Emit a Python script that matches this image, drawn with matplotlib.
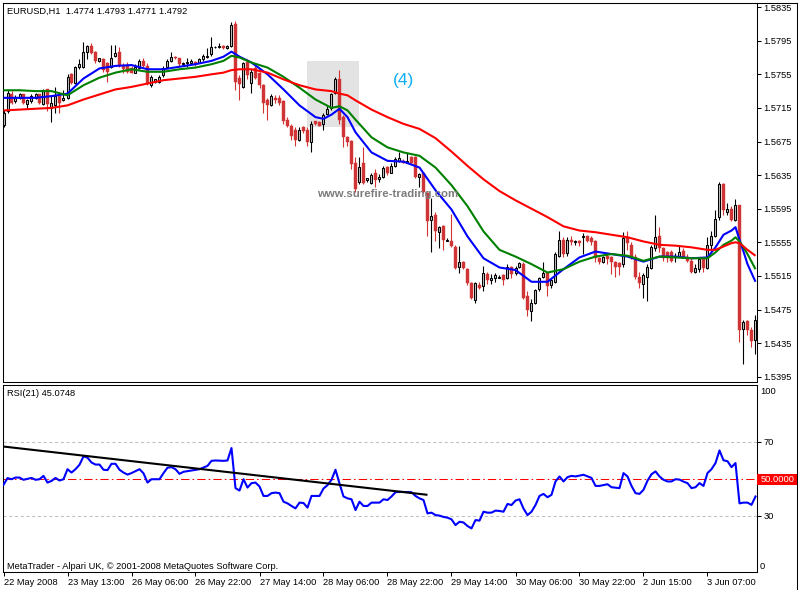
import matplotlib
matplotlib.use("Agg")
import matplotlib.pyplot as plt
from matplotlib.patches import Rectangle
import numpy as np

plt.rcParams['font.family'] = ['Liberation Sans', 'DejaVu Sans']

# ---------------- data ----------------
symbol_text = "EURUSD,H1  1.4774 1.4793 1.4771 1.4792"
rsi_text = "RSI(21) 45.0748"
copyright_text = "MetaTrader - Alpari UK, \u00a9 2001-2008 MetaQuotes Software Corp."
watermark = "www.surefire-trading.com"
wave_label = "(4)"

opens = [
1.5695, 1.5711, 1.5732, 1.5723, 1.5727, 1.5731, 1.5720, 1.5723, 1.5727, 1.5731,
1.5720, 1.5737, 1.5715, 1.5719, 1.5729, 1.5724, 1.5727, 1.5755, 1.5745, 1.5764,
1.5764, 1.5781, 1.5789, 1.5781, 1.5771, 1.5773, 1.5769, 1.5764, 1.5777, 1.5781,
1.5765, 1.5765, 1.5763, 1.5757, 1.5762, 1.5771, 1.5765, 1.5742, 1.5746, 1.5746,
1.5754, 1.5764, 1.5771, 1.5776, 1.5774, 1.5767, 1.5769, 1.5769, 1.5770, 1.5769,
1.5773, 1.5776, 1.5779, 1.5787, 1.5787, 1.5789, 1.5786, 1.5789, 1.5815, 1.5751,
1.5740, 1.5770, 1.5745, 1.5763, 1.5756, 1.5742, 1.5725, 1.5718, 1.5727, 1.5727,
1.5723, 1.5701, 1.5694, 1.5689, 1.5677, 1.5692, 1.5689, 1.5675, 1.5699, 1.5698,
1.5696, 1.5708, 1.5715, 1.5733, 1.5749, 1.5704, 1.5680, 1.5676, 1.5650, 1.5627,
1.5649, 1.5629, 1.5626, 1.5638, 1.5630, 1.5633, 1.5645, 1.5638, 1.5646, 1.5652,
1.5652, 1.5650, 1.5656, 1.5656, 1.5633, 1.5638, 1.5614, 1.5581, 1.5588, 1.5567,
1.5574, 1.5557, 1.5556, 1.5550, 1.5526, 1.5531, 1.5523, 1.5506, 1.5486, 1.5504,
1.5503, 1.5517, 1.5510, 1.5512, 1.5513, 1.5516, 1.5512, 1.5526, 1.5518, 1.5526,
1.5529, 1.5491, 1.5473, 1.5483, 1.5499, 1.5514, 1.5518, 1.5504, 1.5508, 1.5539,
1.5558, 1.5542, 1.5558, 1.5555, 1.5556, 1.5561, 1.5562, 1.5560, 1.5556, 1.5536,
1.5532, 1.5539, 1.5537, 1.5531, 1.5530, 1.5529, 1.5561, 1.5552, 1.5538, 1.5514,
1.5505, 1.5514, 1.5525, 1.5548, 1.5562, 1.5548, 1.5543, 1.5543, 1.5537, 1.5539,
1.5545, 1.5538, 1.5533, 1.5520, 1.5523, 1.5536, 1.5525, 1.5552, 1.5563, 1.5585,
1.5625, 1.5591, 1.5595, 1.5582, 1.5599, 1.5452, 1.5461, 1.5451, 1.5439,
]

closes = [
1.5709, 1.5733, 1.5721, 1.5727, 1.5731, 1.5721, 1.5725, 1.5729, 1.5731, 1.5721,
1.5736, 1.5720, 1.5721, 1.5729, 1.5721, 1.5727, 1.5752, 1.5745, 1.5764, 1.5767,
1.5782, 1.5789, 1.5780, 1.5771, 1.5774, 1.5760, 1.5758, 1.5775, 1.5780, 1.5765,
1.5761, 1.5758, 1.5757, 1.5764, 1.5771, 1.5765, 1.5745, 1.5752, 1.5749, 1.5752,
1.5763, 1.5771, 1.5776, 1.5774, 1.5767, 1.5769, 1.5770, 1.5771, 1.5767, 1.5773,
1.5777, 1.5777, 1.5787, 1.5788, 1.5789, 1.5786, 1.5789, 1.5814, 1.5746, 1.5743,
1.5769, 1.5754, 1.5758, 1.5751, 1.5742, 1.5721, 1.5719, 1.5729, 1.5725, 1.5721,
1.5699, 1.5694, 1.5681, 1.5677, 1.5689, 1.5687, 1.5674, 1.5696, 1.5696, 1.5694,
1.5707, 1.5714, 1.5731, 1.5750, 1.5701, 1.5680, 1.5675, 1.5648, 1.5618, 1.5645,
1.5626, 1.5631, 1.5635, 1.5629, 1.5633, 1.5644, 1.5637, 1.5646, 1.5654, 1.5655,
1.5650, 1.5652, 1.5650, 1.5633, 1.5636, 1.5615, 1.5580, 1.5586, 1.5568, 1.5573,
1.5558, 1.5558, 1.5551, 1.5525, 1.5532, 1.5525, 1.5507, 1.5489, 1.5506, 1.5501,
1.5518, 1.5510, 1.5513, 1.5516, 1.5514, 1.5510, 1.5526, 1.5517, 1.5525, 1.5530,
1.5489, 1.5475, 1.5483, 1.5498, 1.5512, 1.5519, 1.5503, 1.5510, 1.5541, 1.5558,
1.5541, 1.5558, 1.5555, 1.5557, 1.5554, 1.5563, 1.5557, 1.5555, 1.5536, 1.5532,
1.5537, 1.5535, 1.5531, 1.5526, 1.5526, 1.5560, 1.5554, 1.5538, 1.5514, 1.5507,
1.5516, 1.5526, 1.5550, 1.5561, 1.5548, 1.5536, 1.5536, 1.5533, 1.5539, 1.5544,
1.5538, 1.5533, 1.5520, 1.5525, 1.5535, 1.5525, 1.5552, 1.5563, 1.5583, 1.5624,
1.5594, 1.5595, 1.5582, 1.5600, 1.5451, 1.5460, 1.5451, 1.5438, 1.5463,
]

highs = [
1.5713, 1.5736, 1.5735, 1.5730, 1.5733, 1.5732, 1.5726, 1.5731, 1.5733, 1.5732,
1.5738, 1.5738, 1.5730, 1.5740, 1.5731, 1.5736, 1.5755, 1.5757, 1.5765, 1.5773,
1.5793, 1.5790, 1.5792, 1.5783, 1.5775, 1.5775, 1.5770, 1.5790, 1.5790, 1.5787,
1.5768, 1.5770, 1.5765, 1.5767, 1.5773, 1.5775, 1.5768, 1.5754, 1.5750, 1.5754,
1.5765, 1.5773, 1.5782, 1.5777, 1.5775, 1.5770, 1.5775, 1.5773, 1.5771, 1.5774,
1.5779, 1.5786, 1.5799, 1.5789, 1.5792, 1.5790, 1.5790, 1.5817, 1.5818, 1.5754,
1.5770, 1.5773, 1.5761, 1.5765, 1.5758, 1.5744, 1.5727, 1.5731, 1.5730, 1.5730,
1.5725, 1.5704, 1.5696, 1.5692, 1.5692, 1.5694, 1.5692, 1.5699, 1.5700, 1.5700,
1.5709, 1.5717, 1.5733, 1.5752, 1.5760, 1.5706, 1.5682, 1.5677, 1.5657, 1.5657,
1.5668, 1.5632, 1.5638, 1.5642, 1.5636, 1.5646, 1.5646, 1.5649, 1.5656, 1.5662,
1.5654, 1.5661, 1.5658, 1.5658, 1.5637, 1.5639, 1.5615, 1.5608, 1.5591, 1.5575,
1.5576, 1.5560, 1.5589, 1.5552, 1.5551, 1.5533, 1.5525, 1.5508, 1.5508, 1.5508,
1.5527, 1.5520, 1.5517, 1.5518, 1.5516, 1.5517, 1.5529, 1.5527, 1.5527, 1.5532,
1.5531, 1.5497, 1.5487, 1.5500, 1.5514, 1.5531, 1.5520, 1.5512, 1.5543, 1.5568,
1.5561, 1.5561, 1.5563, 1.5558, 1.5558, 1.5566, 1.5564, 1.5562, 1.5558, 1.5538,
1.5539, 1.5542, 1.5539, 1.5533, 1.5532, 1.5567, 1.5568, 1.5555, 1.5541, 1.5520,
1.5518, 1.5529, 1.5552, 1.5588, 1.5573, 1.5550, 1.5545, 1.5546, 1.5542, 1.5552,
1.5548, 1.5541, 1.5536, 1.5529, 1.5537, 1.5538, 1.5561, 1.5568, 1.5594, 1.5627,
1.5626, 1.5602, 1.5598, 1.5607, 1.5600, 1.5462, 1.5462, 1.5454, 1.5468,
]

lows = [
1.5692, 1.5709, 1.5720, 1.5721, 1.5726, 1.5720, 1.5715, 1.5721, 1.5726, 1.5720,
1.5719, 1.5711, 1.5698, 1.5709, 1.5709, 1.5723, 1.5726, 1.5744, 1.5744, 1.5761,
1.5762, 1.5773, 1.5779, 1.5768, 1.5770, 1.5758, 1.5746, 1.5763, 1.5776, 1.5764,
1.5756, 1.5756, 1.5756, 1.5756, 1.5761, 1.5764, 1.5742, 1.5740, 1.5745, 1.5745,
1.5752, 1.5763, 1.5770, 1.5773, 1.5765, 1.5765, 1.5764, 1.5768, 1.5765, 1.5768,
1.5771, 1.5775, 1.5777, 1.5786, 1.5786, 1.5785, 1.5785, 1.5788, 1.5736, 1.5725,
1.5739, 1.5749, 1.5733, 1.5749, 1.5739, 1.5709, 1.5701, 1.5717, 1.5721, 1.5719,
1.5696, 1.5692, 1.5677, 1.5670, 1.5676, 1.5685, 1.5670, 1.5663, 1.5695, 1.5693,
1.5689, 1.5706, 1.5713, 1.5731, 1.5696, 1.5669, 1.5670, 1.5642, 1.5615, 1.5625,
1.5624, 1.5627, 1.5625, 1.5621, 1.5627, 1.5632, 1.5635, 1.5637, 1.5645, 1.5651,
1.5649, 1.5649, 1.5648, 1.5632, 1.5621, 1.5614, 1.5562, 1.5544, 1.5556, 1.5548,
1.5546, 1.5556, 1.5550, 1.5523, 1.5519, 1.5523, 1.5504, 1.5487, 1.5483, 1.5499,
1.5497, 1.5505, 1.5505, 1.5508, 1.5512, 1.5504, 1.5511, 1.5513, 1.5516, 1.5525,
1.5487, 1.5467, 1.5461, 1.5481, 1.5497, 1.5512, 1.5491, 1.5501, 1.5506, 1.5537,
1.5538, 1.5539, 1.5552, 1.5552, 1.5551, 1.5541, 1.5555, 1.5552, 1.5531, 1.5529,
1.5530, 1.5529, 1.5517, 1.5514, 1.5516, 1.5526, 1.5546, 1.5535, 1.5511, 1.5501,
1.5489, 1.5485, 1.5523, 1.5545, 1.5544, 1.5533, 1.5532, 1.5531, 1.5532, 1.5537,
1.5536, 1.5531, 1.5518, 1.5518, 1.5520, 1.5520, 1.5523, 1.5544, 1.5561, 1.5582,
1.5588, 1.5588, 1.5580, 1.5580, 1.5436, 1.5410, 1.5445, 1.5430, 1.5422,
]

# moving averages (blue = fast, green = medium, red = slow), read at these bars
ma_bars = [0, 4, 8, 12, 16, 20, 24, 28, 32, 36, 40, 44, 48, 52,
           55, 57, 59, 62, 66, 70, 74, 78, 80, 82, 84, 86, 88,
           92, 96, 100, 104, 108, 112, 116, 120, 124, 128, 132, 136, 140, 144, 148, 152,
           156, 160, 164, 168, 172, 176,
           178, 180, 182, 183, 184, 185, 186, 188]
ma_fast = [1.5727, 1.5727, 1.5727, 1.5729, 1.5732, 1.5750, 1.5762, 1.5765, 1.5766, 1.5761,
           1.5761, 1.5764, 1.5767, 1.5771,
           1.5776, 1.5782, 1.5776, 1.5769, 1.5755, 1.5737, 1.5718, 1.5704, 1.5702, 1.5707,
           1.5714, 1.5704, 1.5686,
           1.5662, 1.5652, 1.5651, 1.5644, 1.5617, 1.5594, 1.5562, 1.5536, 1.5525, 1.5522,
           1.5508, 1.5508, 1.5523, 1.5537, 1.5544, 1.5541,
           1.5538, 1.5532, 1.5538, 1.5538, 1.5536, 1.5537,
           1.5549, 1.5564, 1.5569, 1.5573, 1.5558, 1.5544, 1.5529, 1.5508]
ma_mid = [1.5736, 1.5736, 1.5735, 1.5735, 1.5730, 1.5742, 1.5751, 1.5757, 1.5761, 1.5758,
          1.5758, 1.5761, 1.5763, 1.5767,
          1.5771, 1.5777, 1.5775, 1.5769, 1.5763, 1.5752, 1.5739, 1.5725, 1.5720, 1.5715,
          1.5717, 1.5712, 1.5701,
          1.5680, 1.5668, 1.5662, 1.5658, 1.5644, 1.5623, 1.5598, 1.5568, 1.5546, 1.5538,
          1.5529, 1.5519, 1.5523, 1.5532, 1.5538, 1.5541,
          1.5539, 1.5533, 1.5538, 1.5537, 1.5536, 1.5536,
          1.5543, 1.5552, 1.5557, 1.5561, 1.5556, 1.5549, 1.5541, 1.5523]
ma_slow = [1.5712, 1.5713, 1.5714, 1.5715, 1.5718, 1.5725, 1.5731, 1.5737, 1.5740, 1.5744,
           1.5748, 1.5750, 1.5752, 1.5755,
           1.5757, 1.5760, 1.5761, 1.5761, 1.5757, 1.5749, 1.5742, 1.5737, 1.5736, 1.5735,
           1.5732, 1.5730, 1.5724,
           1.5713, 1.5704, 1.5696, 1.5690, 1.5679, 1.5663, 1.5646, 1.5630, 1.5616, 1.5605,
           1.5595, 1.5585, 1.5574, 1.5569, 1.5567, 1.5564,
           1.5561, 1.5556, 1.5552, 1.5551, 1.5549, 1.5546,
           1.5546, 1.5550, 1.5554, 1.5555, 1.5554, 1.5550, 1.5546, 1.5539]

# RSI(21) read at bar positions
rsi_points = [
    (0, 46.8), (1, 50.4), (2, 49.8), (3, 50.7), (4, 50.7), (5, 49.5), (7, 50.5), (8, 49.5),
    (9, 49.8), (10, 51.6), (11, 48.0), (12, 48.9), (13, 50.5), (14, 49.1), (15, 49.8),
    (16, 55.2), (17, 53.4), (18, 55.2), (19, 57.6), (20, 62.1), (21, 61.4), (22, 58.8),
    (23, 57.7), (24, 57.7), (25, 54.9), (26, 54.7), (27, 58.1), (28, 58.1), (29, 54.9),
    (30, 53.4), (31, 52.3), (32, 53.1), (34, 55.2), (35, 53.0), (36, 48.0), (37, 49.8),
    (38, 49.8), (39, 49.8), (40, 53.1), (41, 56.0), (42, 56.3), (43, 55.2), (44, 52.7),
    (45, 53.8), (47, 54.5), (48, 54.9), (49, 55.2), (51, 57.0), (52, 59.7), (53, 59.9),
    (55, 59.7), (56, 59.9), (57, 66.6), (58, 45.0), (59, 43.7), (60, 49.8), (61, 45.3),
    (62, 47.7), (63, 48.0), (64, 45.9), (65, 40.8), (66, 40.8), (67, 42.3), (68, 42.6),
    (69, 42.3), (70, 37.7), (71, 36.8), (72, 35.4), (73, 34.1), (74, 37.2), (75, 37.0),
    (76, 34.5), (77, 40.8), (79, 40.8), (80, 44.8), (81, 46.6), (82, 49.5), (83, 54.9),
    (84, 47.5), (85, 40.5), (86, 39.5), (87, 39.0), (88, 33.2), (89, 37.7), (90, 35.4),
    (91, 35.4), (92, 37.2), (94, 37.2), (95, 39.0), (96, 38.6), (97, 40.5), (98, 42.8),
    (99, 43.0), (102, 42.8), (103, 40.8), (104, 39.5), (105, 38.6), (106, 31.4), (107, 31.8),
    (108, 30.5), (109, 30.2), (110, 29.5), (111, 29.1), (112, 28.2), (113, 25.1), (114, 26.9),
    (115, 26.5), (116, 24.6), (117, 23.3), (118, 27.8), (119, 27.5), (120, 32.3), (121, 31.8),
    (122, 31.8), (123, 32.9), (124, 32.7), (125, 32.3), (126, 36.5), (127, 35.9), (128, 38.3),
    (129, 39.0), (130, 34.0), (131, 30.5), (132, 32.3), (133, 35.9), (134, 40.8), (135, 41.9),
    (136, 40.1), (137, 41.4), (138, 48.6), (139, 51.3), (140, 48.6), (141, 50.9), (142, 51.6),
    (143, 51.3), (145, 52.2), (147, 50.5), (148, 46.2), (149, 46.2), (151, 47.1), (152, 45.5),
    (154, 45.0), (155, 53.1), (156, 51.3), (157, 46.2), (158, 42.3), (159, 41.9), (160, 44.1),
    (161, 49.0), (162, 52.5), (163, 54.0), (164, 51.3), (165, 49.5), (166, 48.6), (167, 48.6),
    (168, 49.8), (169, 49.6), (170, 48.5), (171, 47.7), (172, 45.0), (173, 45.5), (174, 47.7),
    (175, 46.2), (176, 53.1), (177, 55.2), (178, 58.5), (179, 65.3), (180, 60.0), (181, 59.5),
    (182, 56.3), (183, 58.5), (184, 36.8), (185, 37.2), (186, 37.2), (187, 36.0), (188, 40.5),
]

trend_bars = [0, 106]
trend_vals = [67.4, 41.4]
rsi_levels = [70, 30]
rsi_mid_level = 50.0
rsi_mid_label = "50.0000"

box_bars = [75.8, 88.9]
box_prices = [1.5692, 1.5771]
wave_bar, wave_price = 100.0, 1.5748
mark_bar, mark_price = 96.0, 1.5613

price_ticks = [1.5835, 1.5795, 1.5755, 1.5715, 1.5675, 1.5635,
               1.5595, 1.5555, 1.5515, 1.5475, 1.5435, 1.5395]
date_tick_bars = [0, 16, 32, 48, 64, 80, 96, 112, 128, 144, 160, 176]
date_labels = ["22 May 2008", "23 May 13:00", "26 May 06:00", "26 May 22:00",
               "27 May 14:00", "28 May 06:00", "28 May 22:00", "29 May 14:00",
               "30 May 06:00", "30 May 22:00", "2 Jun 15:00", "3 Jun 07:00"]

# ---------------- styles ----------------
RED_BODY = '#d03434'
UP_FILL = '#c0c0c0'
FS = 6.7
W, H = 798.0, 590.0


def fx(px):
    return px / W


def fy(py):
    return 1 - py / H


fig = plt.figure(figsize=(7.98, 5.90), dpi=100)
fig.patch.set_facecolor('white')

ax = fig.add_axes([fx(2.7), fy(381.7), fx(756.5) - fx(2.7), fy(2.7) - fy(381.7)])
ax2 = fig.add_axes([fx(2.7), fy(572.0), fx(756.5) - fx(2.7), fy(385.0) - fy(572.0)])

for a in (ax, ax2):
    a.set_xlim(-0.2, 188.25)
    for s in a.spines.values():
        s.set_linewidth(0.75)
        s.set_color('black')

# ---------------- main price panel ----------------
ax.set_ylim(1.538905, 1.584025)
idx = np.arange(len(closes))
o = np.array(opens)
c = np.array(closes)
h = np.array(highs)
l = np.array(lows)
up = c >= o
dn = ~up

ax.add_patch(Rectangle((box_bars[0], box_prices[0]), box_bars[1] - box_bars[0],
                       box_prices[1] - box_prices[0], facecolor='#e3e3e3',
                       edgecolor='none', zorder=0.5))

ax.vlines(idx[up], l[up], h[up], color='black', lw=0.8, zorder=2)
ax.vlines(idx[dn], l[dn], h[dn], color=RED_BODY, lw=0.8, zorder=2)
ax.bar(idx[up], (c - o)[up], bottom=o[up], width=0.5, color=UP_FILL,
       edgecolor='black', linewidth=0.75, zorder=3)
ax.bar(idx[dn], np.maximum((o - c)[dn], 0.00004), bottom=c[dn], width=0.72,
       color=RED_BODY, edgecolor=RED_BODY, linewidth=0.3, zorder=3)

ax.plot(ma_bars, ma_fast, color='#0000ff', lw=1.5, zorder=4, solid_capstyle='butt')
ax.plot(ma_bars, ma_mid, color='#008000', lw=1.5, zorder=4.1, solid_capstyle='butt')
ax.plot(ma_bars, ma_slow, color='#ff0000', lw=1.5, zorder=4.2, solid_capstyle='butt')

ax.text(wave_bar, wave_price, wave_label, color='#10aef2', fontsize=12.5,
        ha='center', va='center', zorder=6)
ax.text(mark_bar, mark_price, watermark, color='#7c7c7c', fontsize=8.2, fontweight='bold',
        ha='center', va='center', zorder=5)
ax.text(0.0057, 0.978, symbol_text, transform=ax.transAxes, fontsize=FS,
        ha='left', va='center', color='black')

ax.set_xticks([])
ax.yaxis.tick_right()
ax.set_yticks(price_ticks)
ax.set_yticklabels([f"{p:.4f}" for p in price_ticks])
ax.tick_params(axis='y', direction='out', length=3, width=0.75, pad=2.0,
               labelsize=FS, colors='black')

# ---------------- RSI panel ----------------
ax2.set_ylim(-0.16, 100.54)
rsi_bars = [p[0] for p in rsi_points]
rsi_vals = [p[1] for p in rsi_points]
for lv in rsi_levels:
    ax2.axhline(lv, color='#c0c0c0', lw=0.75, ls=(0, (3, 2.5)), zorder=1)
ax2.axhline(rsi_mid_level, color='#ff0000', lw=0.75, ls=(0, (8, 3, 1.5, 3)), zorder=1.5)
ax2.plot(rsi_bars, rsi_vals, color='#0000ff', lw=1.5, zorder=3)
ax2.plot(trend_bars, trend_vals, color='black', lw=1.5, zorder=3.5, solid_capstyle='butt')

ax2.yaxis.tick_right()
ax2.set_yticks(rsi_levels)
ax2.set_yticklabels([str(v) for v in rsi_levels])
ax2.tick_params(axis='y', direction='out', length=3, width=0.75, pad=2.0,
                labelsize=FS, colors='black')
ax2.set_xticks(date_tick_bars)
ax2.set_xticklabels(date_labels, ha='left')
ax2.tick_params(axis='x', direction='out', length=3, width=0.75, pad=1.0,
                labelsize=FS, colors='black')

ax2.text(0.0057, 0.957, rsi_text, transform=ax2.transAxes, fontsize=FS,
         ha='left', va='center')
ax2.text(0.0057, 0.008, copyright_text, transform=ax2.transAxes, fontsize=FS,
         ha='left', va='bottom')

# top / bottom scale labels of RSI window (drawn inside the range like MetaTrader)
fig.text(fx(760), fy(391.7), "100", fontsize=FS, ha='left', va='center')
fig.text(fx(760), fy(566.7), "0", fontsize=FS, ha='left', va='center')

# current-level label box
fig.patches.append(Rectangle((fx(757), fy(485)), fx(798) - fx(757), fy(474) - fy(485),
                             transform=fig.transFigure, facecolor='#ff0000',
                             edgecolor='none', zorder=5))
fig.text(fx(760.5), fy(479.5), rsi_mid_label, color='white', fontsize=FS,
         ha='left', va='center', zorder=6)

# outer window frame
fig.add_artist(plt.Line2D([fx(2.7), fx(797)], [fy(2.7), fy(2.7)], color='black',
                          lw=0.75, transform=fig.transFigure))
fig.add_artist(plt.Line2D([fx(797), fx(797)], [fy(2.7), fy(590)], color='black',
                          lw=0.75, transform=fig.transFigure, zorder=7))

fig.savefig("out.png", dpi=100)
